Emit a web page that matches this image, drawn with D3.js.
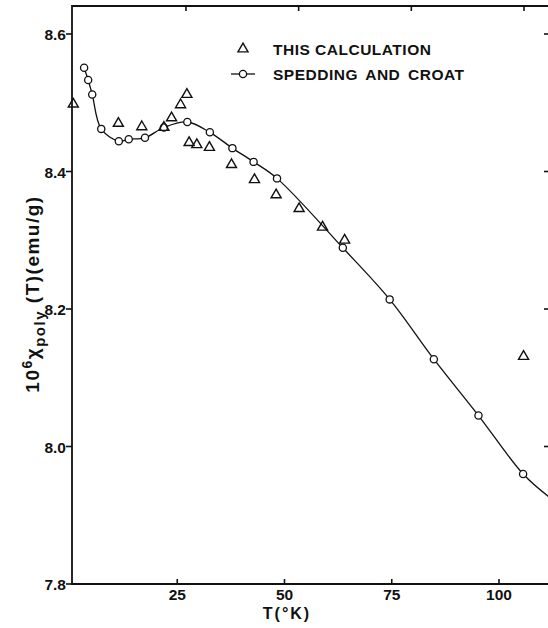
<!DOCTYPE html>
<html>
<head>
<meta charset="utf-8">
<script src="https://cdn.jsdelivr.net/npm/d3@7"></script>
<style>
  body { margin: 0; background: #fff; }
  text { font-family: "Liberation Sans", Arial, sans-serif; fill: #111; }
</style>
</head>
<body>
<div id="chart"></div>
<script>
// this calculation (triangles)
var calcT = [0, 10, 15.2, 20.1, 21.8, 23.8, 25.2, 25.7, 27.4, 30.2, 35.1, 40.2, 45, 50.1, 55.3, 60.2, 99.9];
var calcV = [8.498, 8.470, 8.465, 8.464, 8.478, 8.497, 8.512, 8.442, 8.439, 8.435, 8.410, 8.388, 8.366, 8.346, 8.319, 8.300, 8.131];

// Spedding and Croat (circles)
var spedT = [2.4, 3.3, 4.2, 6.2, 10.1, 12.3, 15.9, 20.1, 25.3, 30.3, 35.3, 40.0, 45.2, 59.8, 70.2, 80.0, 89.9, 99.8];
var spedV = [8.551, 8.533, 8.512, 8.462, 8.444, 8.447, 8.449, 8.464, 8.472, 8.457, 8.434, 8.414, 8.390, 8.289, 8.214, 8.127, 8.045, 7.960];

// tail of the drawn curve past the last circle
var tailT = [105.5];
var tailV = [7.927];

var xTicks = [25, 50, 75, 100];
var yTicks = [7.8, 8.0, 8.2, 8.4, 8.6];
var yTickLabels = ["7.8", "8.0", "8.2", "8.4", "8.6"];

var W = 548, H = 628;
var svg = d3.select("#chart").append("svg")
    .attr("width", W)
    .attr("height", H);

// data scale (matches top ticks) and bottom axis scale (as drawn in the figure)
var x = d3.scaleLinear().domain([0, 100]).range([73.3, 524]);
var xBottom = d3.scaleLinear().domain([0, 100]).range([70, 499]);
var y = d3.scaleLinear().domain([7.8, 8.6]).range([584, 34]);

var fLeft = 72, fRight = 551, fTop = 6, fBottom = 584;

// frame
svg.append("path")
   .attr("d", `M${fRight},${fTop} L${fLeft},${fTop} L${fLeft},${fBottom} L${fRight},${fBottom}`)
   .style("fill", "none")
   .style("stroke", "#111")
   .style("stroke-width", 1.8);

// bottom ticks (inward) + labels
var bx = svg.append("g");
bx.selectAll("line").data(xTicks).enter().append("line")
   .attr("x1", d => xBottom(d)).attr("x2", d => xBottom(d))
   .attr("y1", fBottom).attr("y2", fBottom - 5)
   .style("stroke", "#111").style("stroke-width", 1.6);
bx.selectAll("text").data(xTicks).enter().append("text")
   .attr("x", d => xBottom(d)).attr("y", 600)
   .attr("text-anchor", "middle")
   .style("font-size", "15.5px").style("font-weight", "bold")
   .text(d => d);

// top ticks
svg.append("g").selectAll("line").data(xTicks).enter().append("line")
   .attr("x1", d => x(d)).attr("x2", d => x(d))
   .attr("y1", fTop).attr("y2", fTop + 5)
   .style("stroke", "#111").style("stroke-width", 1.6);

// left ticks (outward) + labels
var ly = svg.append("g");
ly.selectAll("line").data(yTicks).enter().append("line")
   .attr("x1", fLeft - 6).attr("x2", fLeft)
   .attr("y1", d => y(d)).attr("y2", d => y(d))
   .style("stroke", "#111").style("stroke-width", 1.6);
ly.selectAll("text").data(yTicks).enter().append("text")
   .attr("x", fLeft - 6).attr("y", d => y(d) + 6)
   .attr("text-anchor", "end")
   .style("font-size", "15.5px").style("font-weight", "bold")
   .text((d, i) => yTickLabels[i]);

// right ticks
svg.append("g").selectAll("line").data(yTicks.slice(1)).enter().append("line")
   .attr("x1", 544).attr("x2", fRight)
   .attr("y1", d => y(d)).attr("y2", d => y(d))
   .style("stroke", "#111").style("stroke-width", 1.6);

// axis titles
svg.append("text")
   .attr("x", 287).attr("y", 619)
   .attr("text-anchor", "middle")
   .style("font-size", "16px").style("font-weight", "bold")
   .style("letter-spacing", "2px")
   .text("T(°K)");

var yt = svg.append("text")
   .attr("transform", "translate(39,294) rotate(-90)")
   .attr("text-anchor", "middle")
   .style("font-size", "19px").style("font-weight", "bold")
   .style("letter-spacing", "1.5px");
yt.append("tspan").text("10");
yt.append("tspan").attr("dy", -7).style("font-size", "14px").text("6");
yt.append("tspan").attr("dy", 7).text("χ");
yt.append("tspan").attr("dy", 6).style("font-size", "15px").text("poly");
yt.append("tspan").attr("dy", -6).text(" (T)(emu/g)");

// fitted curve
var curvePts = spedT.map((t, i) => [t, spedV[i]])
   .concat(tailT.map((t, i) => [t, tailV[i]]));
svg.append("path")
   .datum(curvePts)
   .attr("d", d3.line().x(d => x(d[0])).y(d => y(d[1])).curve(d3.curveCatmullRom))
   .style("fill", "none")
   .style("stroke", "#111")
   .style("stroke-width", 1.3);

// circles
svg.append("g").selectAll("circle").data(spedT).enter().append("circle")
   .attr("cx", d => x(d))
   .attr("cy", (d, i) => y(spedV[i]))
   .attr("r", 3.6)
   .style("fill", "#fff")
   .style("stroke", "#111")
   .style("stroke-width", 1.3);

// triangles
var tri = d3.symbol().type(d3.symbolTriangle).size(44);
svg.append("g").selectAll("path").data(calcT).enter().append("path")
   .attr("d", tri)
   .attr("transform", (d, i) => `translate(${x(d)},${y(calcV[i])})`)
   .style("fill", "none")
   .style("stroke", "#111")
   .style("stroke-width", 1.4);

// legend
var lg = svg.append("g");
lg.append("path")
   .attr("d", tri)
   .attr("transform", "translate(243,49)")
   .style("fill", "none").style("stroke", "#111").style("stroke-width", 1.4);
lg.append("line")
   .attr("x1", 231).attr("x2", 255).attr("y1", 74).attr("y2", 74)
   .style("stroke", "#111").style("stroke-width", 1.3);
lg.append("circle")
   .attr("cx", 243).attr("cy", 74).attr("r", 3.6)
   .style("fill", "#fff").style("stroke", "#111").style("stroke-width", 1.3);
lg.append("text")
   .attr("x", 273).attr("y", 55)
   .style("font-size", "15.5px").style("font-weight", "bold").style("letter-spacing", "0.5px")
   .text("THIS CALCULATION");
lg.append("text")
   .attr("x", 273).attr("y", 80)
   .style("font-size", "15.5px").style("font-weight", "bold").style("letter-spacing", "0.5px")
   .style("word-spacing", "3px")
   .text("SPEDDING AND CROAT");
</script>
</body>
</html>
